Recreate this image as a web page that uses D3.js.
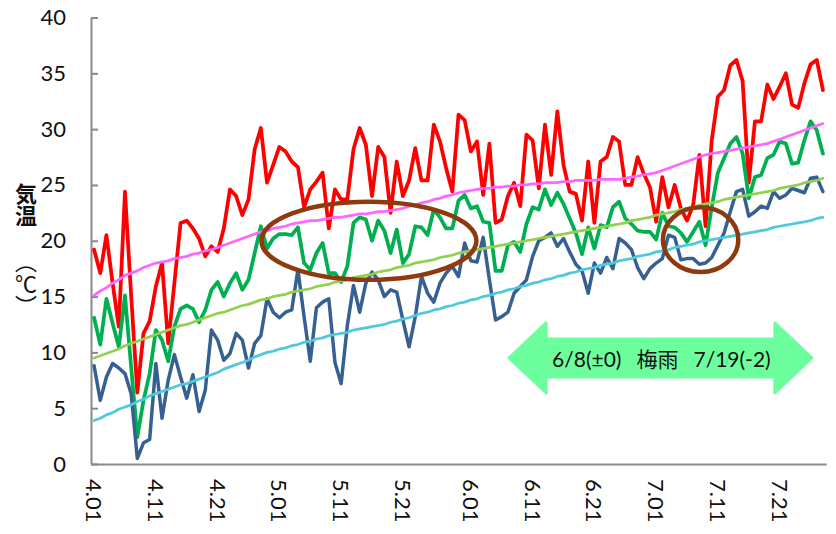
<!DOCTYPE html>
<html>
<head>
<meta charset="utf-8">
<script src="https://cdn.jsdelivr.net/npm/d3@7"></script>
<style>
  body { margin: 0; background: #fff; }
  svg { display: block; }
</style>
</head>
<body>
<div id="chart"></div>
<script>
// daily values, 4/1 .. 7/28
const maxTemp = [
  19.2, 17.1, 20.5, 16.2, 12.3, 24.4, 15.1, 6.4, 11.7, 12.8,
  15.9, 18.0, 10.8, 16.2, 21.6, 21.8, 21.1, 20.2, 18.6, 19.5,
  19.0, 21.1, 24.6, 24.0, 22.3, 23.7, 28.2, 30.1, 25.2, 26.8,
  28.4, 28.0, 27.1, 26.6, 23.0, 24.6, 25.3, 26.1, 21.1, 24.6,
  23.7, 23.7, 28.2, 30.1, 28.6, 24.0, 28.4, 27.5, 22.5, 27.1,
  24.0, 25.4, 28.3, 25.4, 25.4, 30.4, 28.9, 26.5, 24.4, 31.3,
  30.8, 28.0, 28.9, 24.1, 28.7, 21.6, 21.9, 24.0, 25.2, 23.1,
  29.5, 29.0, 24.7, 30.4, 25.9, 31.6, 26.8, 24.4, 24.2, 21.8,
  27.1, 21.6, 27.1, 27.5, 29.3, 28.9, 25.0, 25.0, 27.5, 26.0,
  24.8, 21.7, 25.7, 23.0, 25.0, 22.9, 21.8, 23.2, 27.7, 21.3,
  29.0, 32.9, 33.5, 35.7, 36.2, 34.3, 25.2, 30.7, 30.7, 34.0,
  32.7, 33.8, 35.0, 32.2, 31.9, 34.1, 35.8, 36.2, 33.5
];
const meanTemp = [
  13.1, 10.7, 14.8, 12.6, 10.5, 15.1, 8.7, 2.4, 5.7, 8.1,
  12.0, 11.1, 9.2, 12.3, 13.9, 14.2, 13.9, 12.7, 13.8, 15.6,
  16.3, 15.0, 16.2, 17.1, 15.6, 16.5, 18.9, 21.3, 19.3, 20.2,
  20.6, 20.6, 20.5, 21.2, 18.0, 17.4, 18.9, 19.8, 17.1, 17.1,
  16.3, 17.7, 21.6, 22.1, 21.9, 20.0, 21.8, 20.9, 18.9, 21.0,
  18.0, 18.8, 21.3, 21.2, 20.5, 22.8, 22.1, 21.1, 21.1, 23.6,
  24.1, 22.9, 23.1, 21.7, 21.6, 17.3, 17.3, 19.6, 19.9, 19.0,
  21.5, 23.0, 22.8, 24.6, 23.2, 24.3, 23.3, 22.0, 20.7, 18.8,
  21.2, 19.3, 21.4, 21.2, 23.0, 23.5, 22.0, 21.5, 20.9, 20.8,
  20.8, 20.1, 22.5, 21.3, 21.2, 20.7, 19.9, 20.8, 21.7, 19.6,
  23.0, 26.1, 27.4, 28.7, 29.3, 27.8, 23.8, 25.7, 25.9, 27.4,
  27.7, 28.9, 28.7, 26.9, 27.0, 29.0, 30.7, 29.9, 27.8
];
const minTemp = [
  8.8, 5.7, 7.8, 9.0, 8.6, 8.1, 6.3, 0.5, 1.9, 2.2,
  9.0, 4.1, 7.5, 9.8, 7.8, 5.9, 8.0, 4.7, 6.6, 12.0,
  11.1, 9.3, 9.9, 11.7, 11.1, 8.6, 10.8, 11.5, 14.8, 13.6,
  13.1, 13.6, 13.8, 17.4, 13.2, 9.2, 14.0, 14.5, 14.8, 9.1,
  7.2, 12.4, 16.0, 13.6, 16.2, 17.2, 16.5, 15.0, 15.6, 15.4,
  12.9, 10.5, 13.2, 16.8, 15.3, 14.5, 16.2, 17.1, 17.7, 16.8,
  19.8, 18.2, 18.1, 20.3, 16.5, 12.9, 13.2, 13.6, 15.3, 15.9,
  16.5, 18.6, 20.0, 20.3, 20.7, 19.5, 20.2, 19.0, 17.9, 17.3,
  15.3, 18.0, 17.1, 18.5, 17.5, 20.2, 19.8, 19.2, 17.6, 16.6,
  17.5, 18.0, 18.4, 20.5, 20.3, 18.3, 18.4, 18.4, 17.9, 18.0,
  18.5, 19.6, 20.7, 22.6, 24.4, 24.6, 22.2, 22.6, 23.1, 22.9,
  24.4, 23.8, 24.1, 24.7, 24.5, 24.3, 25.6, 25.7, 24.4
];
// normals
const normMax = [
  15.1, 15.5, 15.8, 16.2, 16.5, 16.9, 17.1, 17.3, 17.6, 17.8,
  18.0, 18.1, 18.2, 18.4, 18.5, 18.6, 18.8, 18.9, 19.1, 19.2,
  19.4, 19.6, 19.8, 20.0, 20.2, 20.4, 20.6, 20.8, 20.9, 21.1,
  21.2, 21.3, 21.5, 21.6, 21.7, 21.8, 21.8, 21.9, 22.0, 22.1,
  22.1, 22.2, 22.3, 22.4, 22.4, 22.5, 22.6, 22.6, 22.7, 22.8,
  22.9, 23.1, 23.2, 23.4, 23.5, 23.7, 23.8, 24.0, 24.1, 24.3,
  24.4, 24.5, 24.6, 24.7, 24.7, 24.8, 24.8, 24.9, 24.9, 25.0,
  25.0, 25.1, 25.1, 25.2, 25.2, 25.2, 25.3, 25.3, 25.4, 25.4,
  25.4, 25.4, 25.5, 25.5, 25.5, 25.5, 25.6, 25.7, 25.8, 25.9,
  26.0, 26.1, 26.3, 26.5, 26.7, 26.9, 27.1, 27.3, 27.5, 27.7,
  27.8, 27.9, 28.0, 28.1, 28.2, 28.3, 28.4, 28.5, 28.6, 28.7,
  28.9, 29.1, 29.3, 29.5, 29.7, 29.9, 30.1, 30.3, 30.5
];
const normMean = [
  9.5, 9.7, 9.9, 10.1, 10.3, 10.6, 10.8, 11.0, 11.2, 11.4,
  11.6, 11.8, 12.0, 12.2, 12.4, 12.5, 12.7, 12.9, 13.1, 13.3,
  13.5, 13.6, 13.8, 14.0, 14.2, 14.3, 14.5, 14.7, 14.8, 15.0,
  15.1, 15.2, 15.4, 15.5, 15.6, 15.7, 15.9, 16.0, 16.1, 16.3,
  16.4, 16.5, 16.7, 16.8, 16.9, 17.0, 17.2, 17.3, 17.4, 17.6,
  17.7, 17.8, 18.0, 18.1, 18.2, 18.3, 18.5, 18.6, 18.7, 18.9,
  19.0, 19.1, 19.2, 19.3, 19.4, 19.5, 19.6, 19.7, 19.8, 19.9,
  20.0, 20.1, 20.2, 20.3, 20.4, 20.5, 20.6, 20.7, 20.8, 20.9,
  21.0, 21.1, 21.2, 21.3, 21.4, 21.5, 21.6, 21.8, 21.9, 22.0,
  22.1, 22.3, 22.4, 22.5, 22.6, 22.8, 22.9, 23.0, 23.2, 23.3,
  23.4, 23.5, 23.7, 23.8, 23.9, 24.0, 24.1, 24.2, 24.3, 24.4,
  24.5, 24.7, 24.8, 24.9, 25.0, 25.2, 25.3, 25.4, 25.6
];
const normMin = [
  3.9, 4.1, 4.4, 4.6, 4.9, 5.1, 5.3, 5.6, 5.8, 6.1,
  6.3, 6.5, 6.7, 6.9, 7.1, 7.2, 7.4, 7.6, 7.8, 8.0,
  8.2, 8.5, 8.7, 8.9, 9.1, 9.3, 9.6, 9.8, 10.0, 10.1,
  10.3, 10.4, 10.6, 10.7, 10.9, 11.0, 11.2, 11.3, 11.5, 11.6,
  11.7, 11.8, 12.0, 12.1, 12.2, 12.3, 12.4, 12.5, 12.7, 12.8,
  13.0, 13.1, 13.3, 13.5, 13.6, 13.8, 13.9, 14.1, 14.2, 14.4,
  14.5, 14.7, 14.8, 15.0, 15.1, 15.3, 15.4, 15.6, 15.7, 15.9,
  16.0, 16.2, 16.3, 16.5, 16.6, 16.8, 16.9, 17.1, 17.2, 17.4,
  17.5, 17.6, 17.8, 17.9, 18.0, 18.2, 18.3, 18.4, 18.6, 18.7,
  18.8, 19.0, 19.1, 19.2, 19.4, 19.5, 19.6, 19.7, 19.9, 20.0,
  20.1, 20.2, 20.3, 20.4, 20.5, 20.6, 20.7, 20.8, 20.9, 21.0,
  21.2, 21.3, 21.4, 21.5, 21.6, 21.7, 21.8, 22.0, 22.1
];
const tickLabels = ["4.01", "4.11", "4.21", "5.01", "5.11", "5.21", "6.01", "6.11", "6.21", "7.01", "7.11", "7.21"];
const yTicks = [0, 5, 10, 15, 20, 25, 30, 35, 40];

let w = 836;
let h = 534;

let startDay = new Date(2019, 3, 1);
function dayIndex(label) {
    let parts = label.split(".");
    return d3.timeDay.count(startDay, new Date(2019, +parts[0] - 1, +parts[1]));
}

let viz = d3.select("#chart")
    .append("svg")
    .attr("width", w)
    .attr("height", h)
    .attr("viewBox", "0 0 " + w + " " + h);

let xScale = d3.scaleLinear().domain([-0.5, maxTemp.length - 0.5]).range([91, 826]);
let yScale = d3.scaleLinear().domain([0, 40]).range([464, 17.5]);

// axes
let yAxis = d3.axisLeft(yScale).tickValues(yTicks).tickSize(-7).tickSizeOuter(0).tickPadding(25);
let yAxisGroup = viz.append("g").attr("transform", "translate(91,0)").call(yAxis);
yAxisGroup.select(".domain").attr("stroke", "#898989").attr("stroke-width", 2);
yAxisGroup.selectAll(".tick line").attr("stroke", "#898989").attr("stroke-width", 2);
yAxisGroup.selectAll("text")
    .attr("font-family", "Lato, 'Open Sans', sans-serif")
    .attr("font-size", 22)
    .attr("fill", "#111");

let xAxis = d3.axisBottom(xScale)
    .tickValues(tickLabels.map(dayIndex))
    .tickSize(0)
    .tickSizeOuter(0)
    .tickFormat((d, i) => tickLabels[i]);
let xAxisGroup = viz.append("g").attr("transform", "translate(0,464)").call(xAxis);
xAxisGroup.select(".domain").attr("stroke", "#898989").attr("stroke-width", 2);
xAxisGroup.selectAll("text")
    .attr("font-family", "Lato, 'Open Sans', sans-serif")
    .attr("font-size", 22)
    .attr("fill", "#111")
    .attr("text-anchor", "start")
    .attr("dy", null)
    .attr("y", 0)
    .attr("dominant-baseline", "central")
    .attr("transform", "translate(0,15) rotate(90)");

// y axis title, written vertically
let titleLines = [
    { t: "気温", y: 183, weight: 700 },
    { t: "（℃）", y: 251, weight: 400 }
];
viz.append("g").selectAll("text").data(titleLines).enter()
    .append("text")
    .attr("x", 26)
    .attr("y", d => d.y)
    .style("writing-mode", "vertical-rl")
    .attr("text-anchor", "start")
    .attr("font-family", "'Noto Sans CJK JP', sans-serif")
    .attr("font-weight", d => d.weight)
    .attr("font-size", 22)
    .attr("fill", "#111")
    .text(d => d.t);

// rainy season arrow
let arrowFrom = 67.2, arrowTo = 116.2, arrowTemp = 9.5;
let ax0 = xScale(arrowFrom), ax1 = xScale(arrowTo), ay = yScale(arrowTemp);
let headLen = 37, headH = 35, shaftH = 19;
let arrowPath = [
    [ax0, ay], [ax0 + headLen, ay - headH], [ax0 + headLen, ay - shaftH],
    [ax1 - headLen, ay - shaftH], [ax1 - headLen, ay - headH], [ax1, ay],
    [ax1 - headLen, ay + headH], [ax1 - headLen, ay + shaftH],
    [ax0 + headLen, ay + shaftH], [ax0 + headLen, ay + headH]
];
viz.append("path")
    .attr("d", "M" + arrowPath.map(p => p.join(",")).join("L") + "Z")
    .attr("fill", "#6dff9d")
    .attr("stroke", "#6dff9d")
    .attr("stroke-width", 3)
    .attr("stroke-linejoin", "round");

let acx = (ax0 + ax1) / 2;
let arrowText = [
    { t: "6/8(±0)", dx: -39, anchor: "end" },
    { t: "梅雨", dx: -3, anchor: "middle" },
    { t: "7/19(-2)", dx: 33, anchor: "start" }
];
viz.append("g").selectAll("text").data(arrowText).enter()
    .append("text")
    .attr("x", d => acx + d.dx)
    .attr("y", ay + 1)
    .attr("text-anchor", d => d.anchor)
    .attr("dominant-baseline", "central")
    .attr("font-family", "Lato, 'Noto Sans CJK JP', sans-serif")
    .attr("font-size", 21)
    .attr("fill", "#111")
    .text(d => d.t);

// lines
let lineMaker = d3.line()
    .x((d, i) => xScale(i))
    .y(d => yScale(d));

let series = [
    { values: maxTemp, color: "#ff0000", width: 3.75 },
    { values: meanTemp, color: "#00b050", width: 3.75 },
    { values: minTemp, color: "#376092", width: 3.5 },
    { values: normMax, color: "#ff66ff", width: 2.75 },
    { values: normMean, color: "#92d050", width: 2.75 },
    { values: normMin, color: "#4fc9db", width: 2.75 }
];
viz.append("g").selectAll("path").data(series).enter()
    .append("path")
    .attr("d", d => lineMaker(d.values))
    .attr("fill", "none")
    .attr("stroke", d => d.color)
    .attr("stroke-width", d => d.width)
    .attr("stroke-linejoin", "round")
    .attr("stroke-linecap", "round");

// highlight ellipses (centre day / temp, radius in days / degrees)
let circles = [
    { day: 44.5, temp: 20.0, rDay: 17.4, rTemp: 3.5 },
    { day: 98.2, temp: 20.1, rDay: 6.1, rTemp: 2.9 }
];
viz.append("g").selectAll("ellipse").data(circles).enter()
    .append("ellipse")
    .attr("cx", d => xScale(d.day))
    .attr("cy", d => yScale(d.temp))
    .attr("rx", d => xScale(d.rDay) - xScale(0))
    .attr("ry", d => yScale(0) - yScale(d.rTemp))
    .attr("fill", "none")
    .attr("stroke", "#8f3a0e")
    .attr("stroke-width", 4.5);
</script>
</body>
</html>
